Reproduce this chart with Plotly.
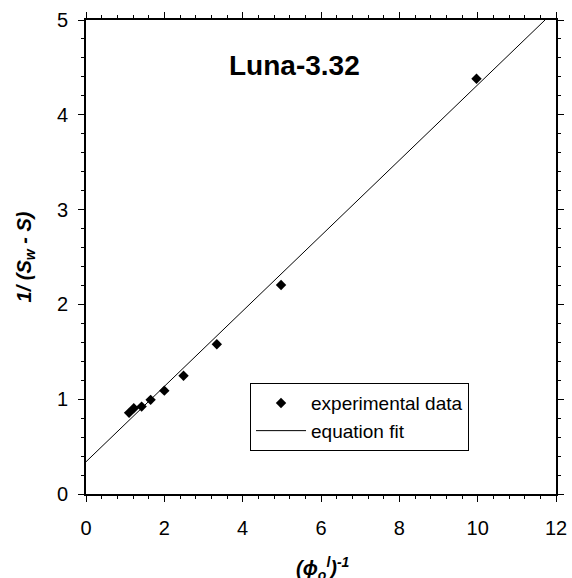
import plotly.graph_objects as go

x_data = [1.10, 1.22, 1.42, 1.65, 2.00, 2.49, 3.34, 4.98, 9.97]
y_data = [0.856, 0.904, 0.922, 0.993, 1.09, 1.247, 1.58, 2.205, 4.38]

# equation fit line end points
fit_x = [0.0, 11.72]
fit_y = [0.34, 5.0]

x_ticks = [0, 2, 4, 6, 8, 10, 12]
y_ticks = [0, 1, 2, 3, 4, 5]

FONT = "Liberation Sans, Arial, Helvetica, sans-serif"
TITLE_FONT = dict(family=FONT, size=20, color="black", weight="bold", style="italic")

fig = go.Figure()
fig.add_trace(go.Scatter(
    x=x_data, y=y_data, mode="markers", name="experimental data",
    marker=dict(symbol="diamond", size=8, color="black"),
))
fig.add_trace(go.Scatter(
    x=fit_x, y=fit_y, mode="lines", name="equation fit",
    line=dict(color="black", width=1),
))

axis_common = dict(
    showgrid=False, zeroline=False, showline=True, linecolor="black",
    linewidth=1.6, mirror="allticks", ticks="outside", ticklen=6,
    tickwidth=1.2, tickcolor="black", automargin=False,
    tickfont=dict(family=FONT, size=20, color="black"),
)

fig.update_layout(
    width=572, height=578,
    margin=dict(l=86, r=16, t=20, b=84),
    paper_bgcolor="white", plot_bgcolor="white",
    showlegend=True,
    legend=dict(
        x=0.349, y=0.234, xanchor="left", yanchor="top",
        bordercolor="black", borderwidth=1, bgcolor="white",
        font=dict(family=FONT, size=19, color="black"),
        itemwidth=50, tracegroupgap=0,
    ),
    xaxis=dict(
        range=[0, 12], tickvals=x_ticks,
        minor=dict(dtick=0.4, ticklen=3.5, ticks="outside", tickcolor="black"),
        ticklabelstandoff=9,
        **axis_common,
    ),
    yaxis=dict(
        range=[0, 5], tickvals=y_ticks,
        minor=dict(dtick=0.2, ticklen=3.5, ticks="outside", tickcolor="black"),
        title=dict(text="1/ (S<sub>w</sub> - S)", font=TITLE_FONT, standoff=20),
        ticklabelstandoff=6,
        **axis_common,
    ),
)

# x-axis title, placed low like in the reference (partly below the page edge)
fig.add_annotation(
    text="(ϕ<sub>o</sub><sup>l</sup>)<sup>-1</sup>", xref="paper", yref="paper",
    x=0.505, y=-0.122, xanchor="center", yanchor="top", showarrow=False,
    font=TITLE_FONT,
)

fig.add_annotation(
    text="Luna-3.32", xref="paper", yref="paper", x=0.444, y=0.903,
    xanchor="center", yanchor="middle", showarrow=False,
    font=dict(family=FONT, size=28, color="black", weight="bold"),
)

fig.write_html("out.html")
